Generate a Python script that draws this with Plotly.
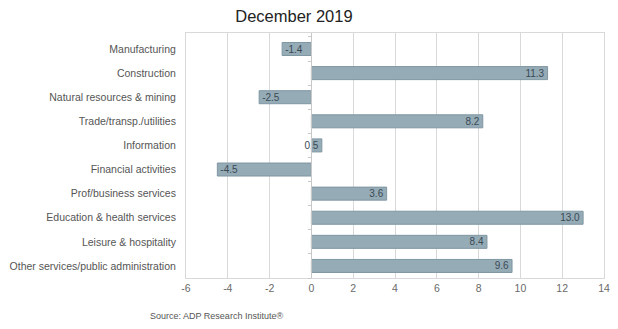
import plotly.graph_objects as go

categories = [
    "Manufacturing",
    "Construction",
    "Natural resources & mining",
    "Trade/transp./utilities",
    "Information",
    "Financial activities",
    "Prof/business services",
    "Education & health services",
    "Leisure & hospitality",
    "Other services/public administration",
]
values = [-1.4, 11.3, -2.5, 8.2, 0.5, -4.5, 3.6, 13.0, 8.4, 9.6]
x_ticks = [-6, -4, -2, 0, 2, 4, 6, 8, 10, 12, 14]

FONT = "Liberation Sans, Arial, sans-serif"

fig = go.Figure()
fig.add_trace(go.Bar(
    y=categories,
    x=values,
    orientation="h",
    marker=dict(color="#95abb6", line=dict(color="#7f97a3", width=1)),
    text=[f"{v:.1f}" for v in values],
    textposition="inside",
    insidetextanchor="end",
    textangle=0,
    textfont=dict(family=FONT, size=10, color="#3a4a55"),
    cliponaxis=False,
    showlegend=False,
))
# invisible helper trace to draw category ticks on the zero line
fig.add_trace(go.Scatter(x=[0], y=[categories[0]], yaxis="y2", mode="markers",
                         marker=dict(opacity=0), showlegend=False, hoverinfo="skip"))

# page body has an 8px default margin, so the figure is sized to fit inside it
fig.update_layout(
    width=602, height=313,
    margin=dict(l=178, r=6, t=25, b=43, autoexpand=False),
    paper_bgcolor="white", plot_bgcolor="white",
    bargap=0.46,
    uniformtext=dict(minsize=10, mode="show"),
    title=dict(text="December 2019", x=0.475, xanchor="center", y=0.974, yanchor="middle",
               font=dict(family=FONT, size=16.5, color="#222222")),
    font=dict(family=FONT, size=10, color="#555555"),
    xaxis=dict(range=[-6, 14], tickvals=x_ticks, ticktext=[str(v) for v in x_ticks],
               ticklabeloverflow="allow",
               showgrid=True, gridcolor="#d9d9d9", automargin=False,
               gridwidth=1, zeroline=False, showline=True, linecolor="#d9d9d9", mirror=True,
               tickfont=dict(family=FONT, size=10.5, color="#6a6a6a"), ticks="", fixedrange=True),
    yaxis=dict(categoryorder="array", categoryarray=categories[::-1], showgrid=False,
               automargin=False,
               showline=True, linecolor="#d9d9d9", mirror=True, ticks="", ticklabelstandoff=7,
               tickfont=dict(family=FONT, size=10.5, color="#555555")),
    yaxis2=dict(overlaying="y", anchor="free", position=0.3, matches="y", automargin=False,
                categoryorder="array", categoryarray=categories[::-1],
                showticklabels=False, showgrid=False, showline=True, linecolor="#c8c8c8",
                ticks="outside", tickson="boundaries", ticklen=3, tickcolor="#c8c8c8"),
    annotations=[dict(text="Source: ADP Research Institute®", xref="paper", yref="paper",
                      x=-0.092, y=-0.125, xanchor="left", yanchor="top", showarrow=False,
                      font=dict(family=FONT, size=9, color="#555555"))],
)

fig.write_html("out.html")
